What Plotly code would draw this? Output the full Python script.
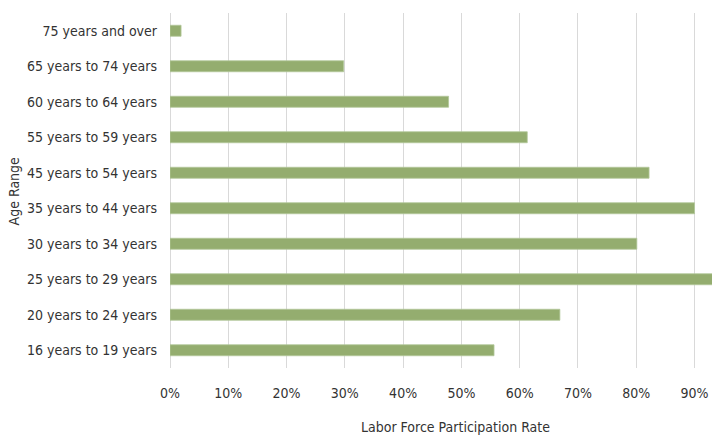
import plotly.graph_objects as go

# Age groups, listed bottom to top
age_groups = [
    "16 years to 19 years",
    "20 years to 24 years",
    "25 years to 29 years",
    "30 years to 34 years",
    "35 years to 44 years",
    "45 years to 54 years",
    "55 years to 59 years",
    "60 years to 64 years",
    "65 years to 74 years",
    "75 years and over",
]
participation = [0.556, 0.669, 0.94, 0.801, 0.900, 0.822, 0.613, 0.478, 0.298, 0.019]

tick_vals = [0, 0.1, 0.2, 0.3, 0.4, 0.5, 0.6, 0.7, 0.8, 0.9]

FONT = "DejaVu Sans Condensed, Liberation Sans Narrow, Roboto, sans-serif"
TEXT = "#333333"
SIZE = 14

fig = go.Figure(
    go.Bar(
        x=participation,
        y=age_groups,
        orientation="h",
        marker=dict(color="#94AD6F", line=dict(color="#B3C89A", width=0.8)),
    )
)

fig.update_layout(
    width=712,
    height=435,
    margin=dict(l=170, r=0, t=13, b=67),
    paper_bgcolor="white",
    plot_bgcolor="white",
    bargap=0.69,
    showlegend=False,
    font=dict(family=FONT, size=SIZE, color=TEXT),
    annotations=[
        # x-axis title, centred a little right of the plot middle
        dict(
            text="Labor Force Participation Rate",
            xref="paper", yref="paper",
            x=0.526, y=-0.166,
            xanchor="center", yanchor="middle",
            showarrow=False,
            font=dict(family=FONT, size=SIZE, color=TEXT),
        ),
        # y-axis title
        dict(
            text="Age Range",
            xref="paper", yref="paper",
            x=-0.288, y=0.5,
            xanchor="center", yanchor="middle",
            textangle=-90,
            showarrow=False,
            font=dict(family=FONT, size=SIZE, color=TEXT),
        ),
    ],
)

fig.update_xaxes(
    range=[0, 0.93],
    tickvals=tick_vals,
    tickformat=".0%",
    showgrid=True,
    gridcolor="#d9d9d9",
    gridwidth=1,
    zeroline=True,
    zerolinecolor="#d9d9d9",
    zerolinewidth=1,
    showline=False,
    ticks="",
    ticklabelstandoff=15,
    tickfont=dict(family=FONT, size=SIZE, color=TEXT),
    automargin=False,
    fixedrange=True,
)

fig.update_yaxes(
    showgrid=False,
    showline=False,
    ticks="",
    ticklabelstandoff=12,
    tickfont=dict(family=FONT, size=SIZE, color=TEXT),
    automargin=False,
    fixedrange=True,
)

fig.write_html("out.html", config={"displayModeBar": False})
